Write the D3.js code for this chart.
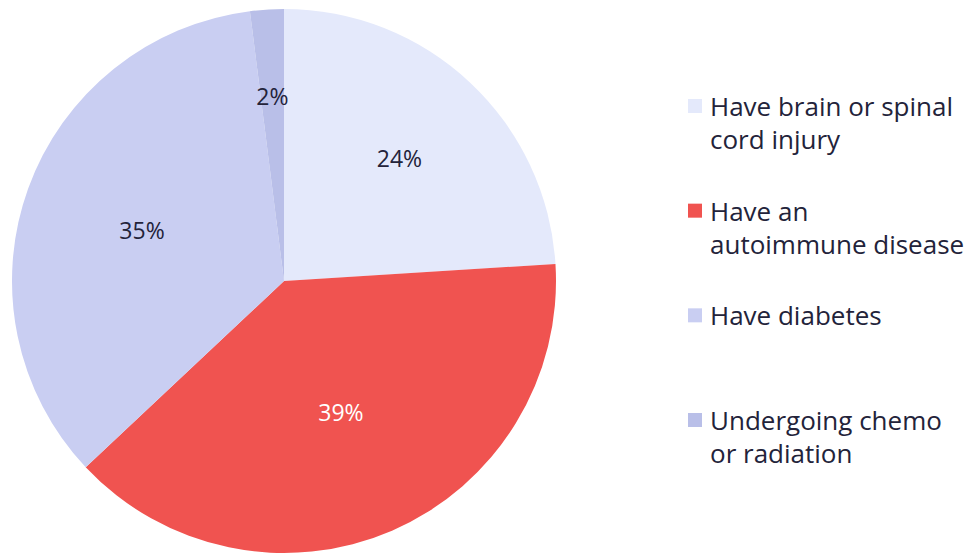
<!DOCTYPE html>
<html>
<head>
<meta charset="utf-8">
<script src="https://cdn.jsdelivr.net/npm/d3@7"></script>
<style>
  html, body { margin: 0; padding: 0; background: #ffffff; }
  svg { display: block; }
  text { font-family: "Open Sans", "Noto Sans", sans-serif; }
</style>
</head>
<body>
<svg id="chart" width="977" height="554"></svg>
<script>
const categories = ["Have brain or spinal cord injury", "Have an autoimmune disease", "Have diabetes", "Undergoing chemo or radiation"];
const legendLines = [["Have brain or spinal", "cord injury"], ["Have an", "autoimmune disease"], ["Have diabetes"], ["Undergoing chemo", "or radiation"]];
const values = [24, 39, 35, 2];
const colors = ["#e4e9fb", "#f05350", "#c9cef2", "#b9bfe8"];
const labelColors = ["#23233a", "#ffffff", "#23233a", "#23233a"];

const svg = d3.select("#chart");
const cx = 284, cy = 281, r = 272;

const pie = d3.pie().sort(null).value(d => d)(values);
const arc = d3.arc().innerRadius(0).outerRadius(r);

// label at the area centroid of each sector
function labelPos(d) {
  const th = d.endAngle - d.startAngle;
  const rr = 4 * r * Math.sin(th / 2) / (3 * th) + 4;
  return d3.arc().innerRadius(rr).outerRadius(rr).centroid(d);
}

const g = svg.append("g").attr("transform", `translate(${cx},${cy})`);
g.selectAll("path").data(pie).enter().append("path")
  .attr("d", arc)
  .attr("fill", (d, i) => colors[i]);

g.selectAll("text.lbl").data(pie).enter().append("text")
  .attr("class", "lbl")
  .attr("transform", d => `translate(${labelPos(d)})`)
  .attr("text-anchor", "middle")
  .attr("dominant-baseline", "central")
  .attr("font-size", 23)
  .attr("fill", (d, i) => labelColors[i])
  .text(d => d.data + "%");

const legend = svg.append("g");
const ly = d3.scalePoint().domain(d3.range(categories.length)).range([116, 430]);
categories.forEach((c, i) => {
  const y = ly(i);
  legend.append("rect")
    .attr("x", 688).attr("y", y - 17).attr("width", 14).attr("height", 14)
    .attr("fill", colors[i]);
  const t = legend.append("text")
    .attr("x", 710).attr("y", y)
    .attr("font-size", 26)
    .attr("fill", "#23233a");
  legendLines[i].forEach((line, j) => {
    t.append("tspan").attr("x", 710).attr("dy", j === 0 ? 0 : 33).text(line);
  });
});
</script>
</body>
</html>
